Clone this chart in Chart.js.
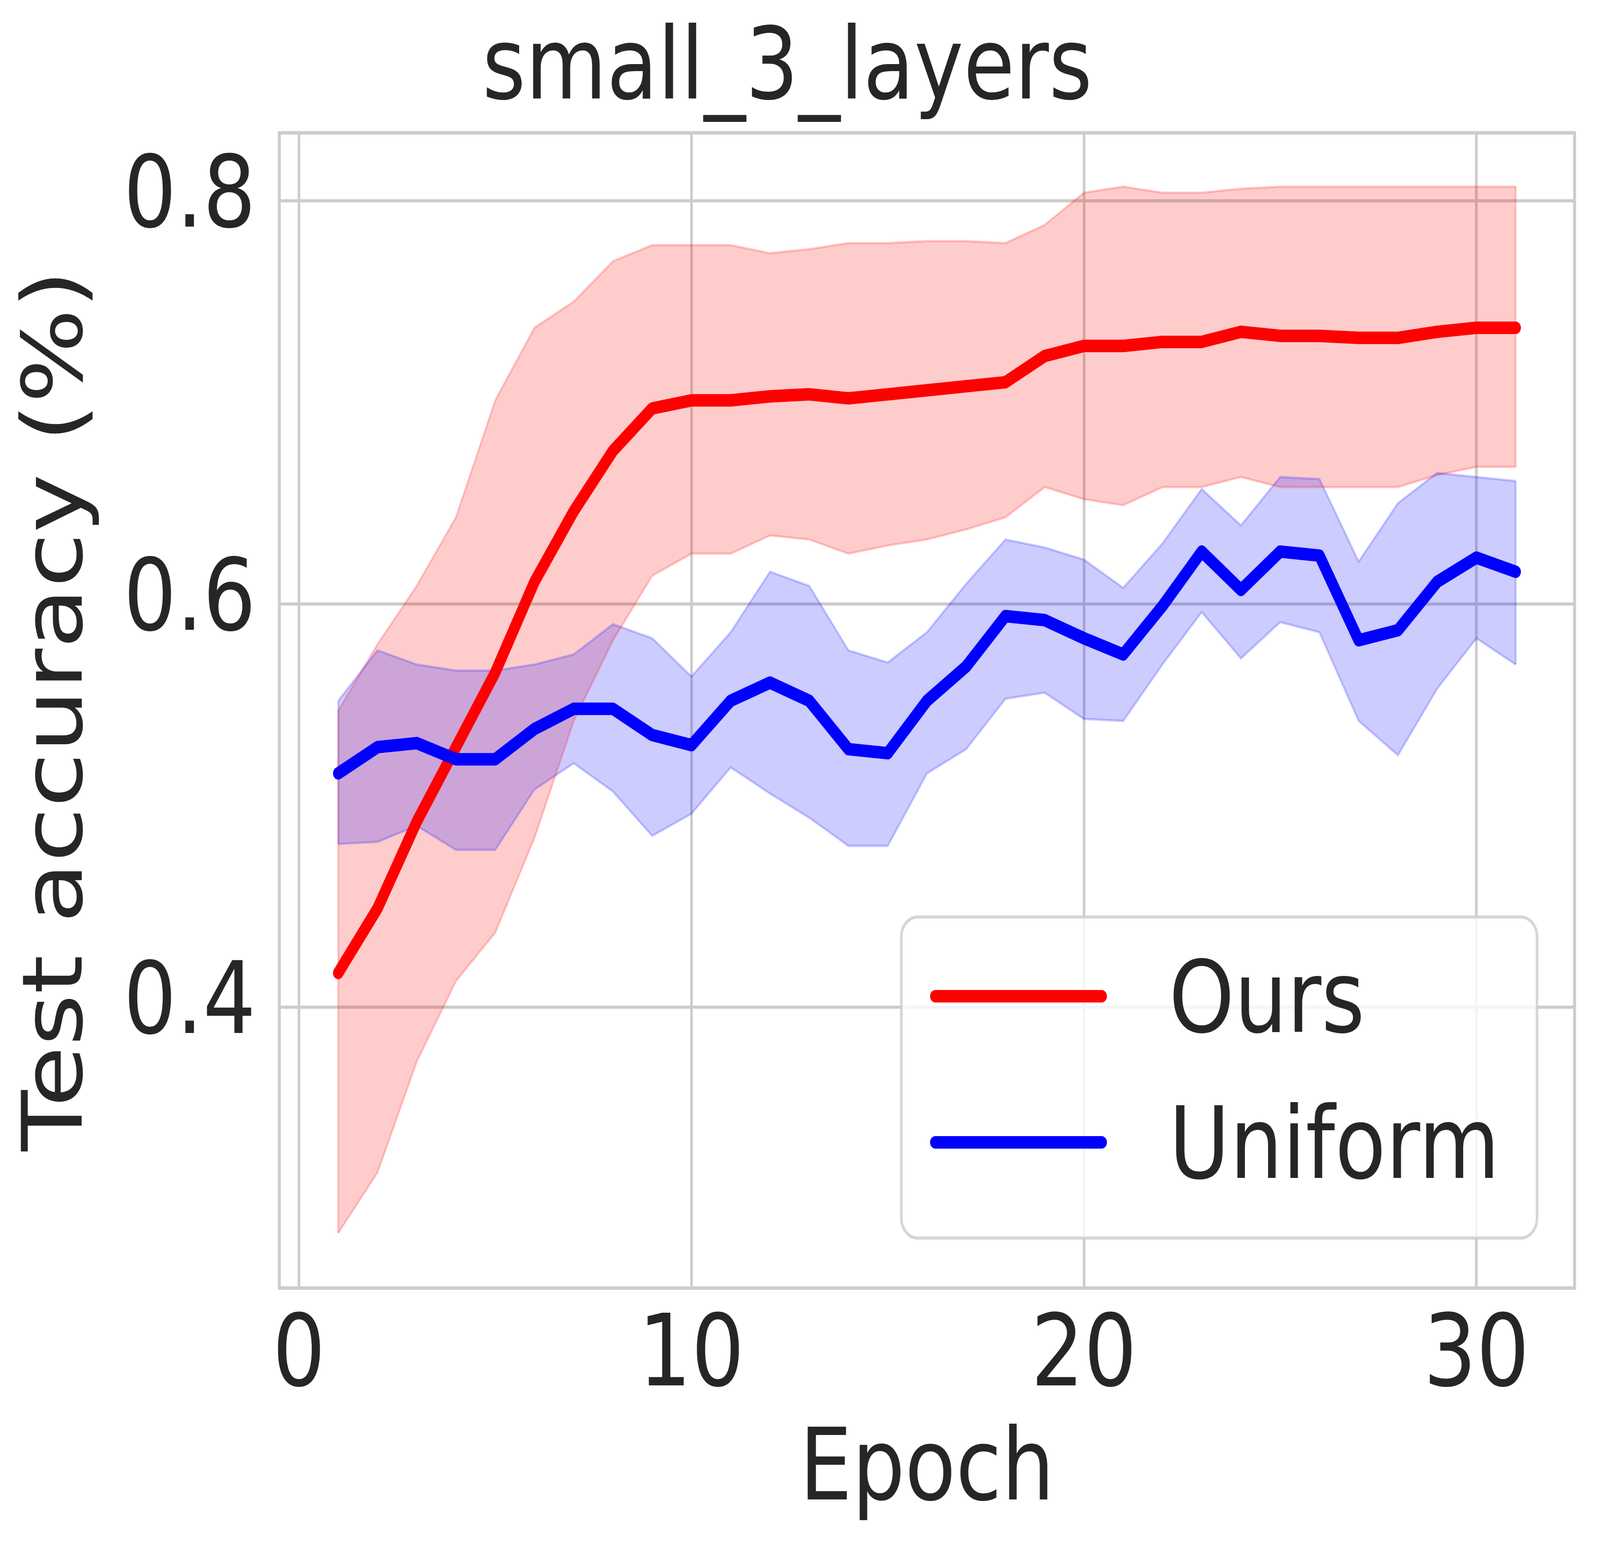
<!DOCTYPE html>
<html>
<head>
<meta charset="utf-8">
<title>small_3_layers</title>
<script src="https://cdn.jsdelivr.net/npm/chart.js@4.4.0/dist/chart.umd.min.js"></script>
<style>
  html, body { margin: 0; padding: 0; background: #ffffff; overflow: hidden; }
  canvas { display: block; }
</style>
</head>
<body>
<canvas id="accChart" width="4903" height="3993" style="width:100vw;height:100vh"></canvas>
<script>
// values
const epochs = [1, 2, 3, 4, 5, 6, 7, 8, 9, 10, 11, 12, 13, 14, 15, 16, 17, 18, 19, 20, 21, 22, 23, 24, 25, 26, 27, 28, 29, 30, 31];

const oursMean = [0.417, 0.449, 0.492, 0.529, 0.566, 0.611, 0.646, 0.676, 0.697, 0.701, 0.701, 0.703, 0.704, 0.702, 0.704, 0.706, 0.708, 0.710, 0.723, 0.728, 0.728, 0.730, 0.730, 0.735, 0.733, 0.733, 0.732, 0.732, 0.735, 0.737, 0.737];
const oursUpper = [0.547, 0.580, 0.609, 0.643, 0.701, 0.737, 0.750, 0.770, 0.778, 0.778, 0.778, 0.774, 0.776, 0.779, 0.779, 0.780, 0.780, 0.779, 0.788, 0.804, 0.807, 0.804, 0.804, 0.806, 0.807, 0.807, 0.807, 0.807, 0.807, 0.807, 0.807];
const oursLower = [0.288, 0.318, 0.373, 0.413, 0.437, 0.484, 0.542, 0.582, 0.614, 0.625, 0.625, 0.634, 0.632, 0.625, 0.629, 0.632, 0.637, 0.643, 0.658, 0.652, 0.649, 0.658, 0.658, 0.663, 0.658, 0.658, 0.658, 0.658, 0.664, 0.668, 0.668];

const unifMean = [0.516, 0.529, 0.531, 0.523, 0.523, 0.538, 0.548, 0.548, 0.535, 0.530, 0.552, 0.561, 0.552, 0.528, 0.526, 0.552, 0.569, 0.594, 0.592, 0.583, 0.575, 0.599, 0.626, 0.607, 0.626, 0.624, 0.582, 0.587, 0.611, 0.623, 0.616];
const unifUpper = [0.552, 0.577, 0.570, 0.567, 0.567, 0.570, 0.575, 0.590, 0.583, 0.564, 0.586, 0.616, 0.609, 0.577, 0.571, 0.586, 0.610, 0.632, 0.628, 0.622, 0.608, 0.630, 0.657, 0.639, 0.663, 0.662, 0.621, 0.650, 0.665, 0.663, 0.661];
const unifLower = [0.481, 0.482, 0.490, 0.478, 0.478, 0.508, 0.521, 0.507, 0.485, 0.496, 0.519, 0.506, 0.494, 0.480, 0.480, 0.516, 0.528, 0.553, 0.556, 0.543, 0.542, 0.570, 0.596, 0.573, 0.591, 0.586, 0.542, 0.525, 0.558, 0.583, 0.570];

const xTicks = [0, 10, 20, 30];
const yTicks = [0.4, 0.6, 0.8];
const legendNames = ["Ours", "Uniform"];

const FONT = "'DejaVu Sans', 'Liberation Sans', sans-serif";
const TEXT = "#262626";
const GRID = "#cccccc";

function pts(ys) {
  return epochs.map((e, i) => ({ x: e, y: ys[i] }));
}

function meanLine(label, ys, color) {
  return {
    label: label,
    data: pts(ys),
    borderColor: color,
    backgroundColor: color,
    borderWidth: 32,
    borderCapStyle: "round",
    borderJoinStyle: "round",
    pointRadius: 0,
    tension: 0,
    fill: false
  };
}

function bandEdge(ys, rgb, fill) {
  return {
    label: "",
    data: pts(ys),
    borderColor: "rgba(" + rgb + ",0.2)",
    backgroundColor: "rgba(" + rgb + ",0.2)",
    borderWidth: 6,
    pointRadius: 0,
    tension: 0,
    fill: fill
  };
}

// closes the band polygons at the first and last epoch, like fill_between does
const bandEnds = {
  id: "bandEnds",
  afterDatasetsDraw(chart) {
    const { ctx, scales: { x, y } } = chart;
    const pairs = [[oursUpper, oursLower, "255,0,0"], [unifUpper, unifLower, "0,0,255"]];
    ctx.save();
    ctx.lineWidth = 6;
    pairs.forEach(([up, lo, rgb]) => {
      ctx.strokeStyle = "rgba(" + rgb + ",0.2)";
      [0, epochs.length - 1].forEach(i => {
        const px = x.getPixelForValue(epochs[i]);
        ctx.beginPath();
        ctx.moveTo(px, y.getPixelForValue(up[i]));
        ctx.lineTo(px, y.getPixelForValue(lo[i]));
        ctx.stroke();
      });
    });
    ctx.restore();
  }
};

// frame around the plotting area (all four sides)
const frame = {
  id: "frame",
  afterDatasetsDraw(chart) {
    const { ctx, chartArea: a } = chart;
    ctx.save();
    ctx.strokeStyle = GRID;
    ctx.lineWidth = 9;
    ctx.strokeRect(a.left, a.top, a.right - a.left, a.bottom - a.top);
    ctx.restore();
  }
};

// matplotlib-style legend box in the lower right
const boxLegend = {
  id: "boxLegend",
  afterDraw(chart) {
    const { ctx } = chart;
    const bx = 2762, by = 2347, bw = 4710 - 2762, bh = 3169 - 2347, r = 51;
    ctx.save();
    ctx.beginPath();
    ctx.roundRect(bx, by, bw, bh, r);
    ctx.fillStyle = "rgba(255,255,255,0.8)";
    ctx.fill();
    ctx.lineWidth = 8;
    ctx.strokeStyle = "rgba(204,204,204,0.8)";
    ctx.stroke();

    const entries = [
      { name: legendNames[0], color: chart.data.datasets[1].borderColor, y: 2550 },
      { name: legendNames[1], color: chart.data.datasets[0].borderColor, y: 2924 }
    ];
    entries.forEach(en => {
      ctx.beginPath();
      ctx.lineCap = "round";
      ctx.lineWidth = 32;
      ctx.strokeStyle = en.color;
      ctx.moveTo(2866, en.y);
      ctx.lineTo(3376, en.y);
      ctx.stroke();
      ctx.fillStyle = TEXT;
      ctx.font = "255px " + FONT;
      ctx.textAlign = "left";
      ctx.textBaseline = "alphabetic";
      ctx.fillText(en.name, 3582, en.y + 91);
    });
    ctx.restore();
  }
};

const ctx = document.getElementById("accChart").getContext("2d");

new Chart(ctx, {
  type: "line",
  data: {
    datasets: [
      meanLine(legendNames[1], unifMean, "#0000ff"),
      meanLine(legendNames[0], oursMean, "#ff0000"),
      bandEdge(unifUpper, "0,0,255", "+1"),
      bandEdge(unifLower, "0,0,255", false),
      bandEdge(oursUpper, "255,0,0", "+1"),
      bandEdge(oursLower, "255,0,0", false)
    ]
  },
  options: {
    responsive: false,
    devicePixelRatio: 1,
    animation: false,
    layout: { padding: { left: 0, right: 78, top: 0, bottom: 0 } },
    plugins: {
      legend: { display: false },
      tooltip: { enabled: false },
      filler: { drawTime: "beforeDatasetsDraw" },
      title: {
        display: true,
        text: "small_3_layers",
        color: TEXT,
        font: { family: FONT, size: 255, weight: "normal", lineHeight: 1.2 },
        padding: { top: 33, bottom: 1 }
      }
    },
    scales: {
      x: {
        type: "linear",
        min: -0.5,
        max: 32.5,
        afterBuildTicks(scale) {
          scale.ticks = xTicks.map(v => ({ value: v }));
        },
        afterFit(scale) {
          scale.height = 696;
          scale.paddingLeft = 0;
          scale.paddingRight = 0;
        },
        ticks: {
          color: TEXT,
          font: { family: FONT, size: 255 },
          padding: 30,
          maxRotation: 0,
          autoSkip: false,
          callback: v => String(v)
        },
        grid: { color: GRID, lineWidth: 8, drawTicks: false },
        border: { display: false },
        title: {
          display: true,
          text: "Epoch",
          color: TEXT,
          font: { family: FONT, size: 255, lineHeight: 1.2 },
          padding: { top: 0, bottom: 68 }
        }
      },
      y: {
        type: "linear",
        min: 0.2607,
        max: 0.8337,
        afterBuildTicks(scale) {
          scale.ticks = yTicks.map(v => ({ value: v }));
        },
        afterFit(scale) {
          scale.width = 856;
          scale.paddingTop = 0;
          scale.paddingBottom = 0;
        },
        ticks: {
          color: TEXT,
          font: { family: FONT, size: 255 },
          padding: 72,
          autoSkip: false,
          callback: v => Number(v).toFixed(1)
        },
        grid: { color: GRID, lineWidth: 8, drawTicks: false },
        border: { display: false },
        title: {
          display: true,
          text: "Test accuracy (%)",
          color: TEXT,
          font: { family: FONT, size: 255, lineHeight: 1.2 },
          padding: { top: 31, bottom: 0 }
        }
      }
    }
  },
  plugins: [bandEnds, frame, boxLegend]
});
</script>
</body>
</html>
